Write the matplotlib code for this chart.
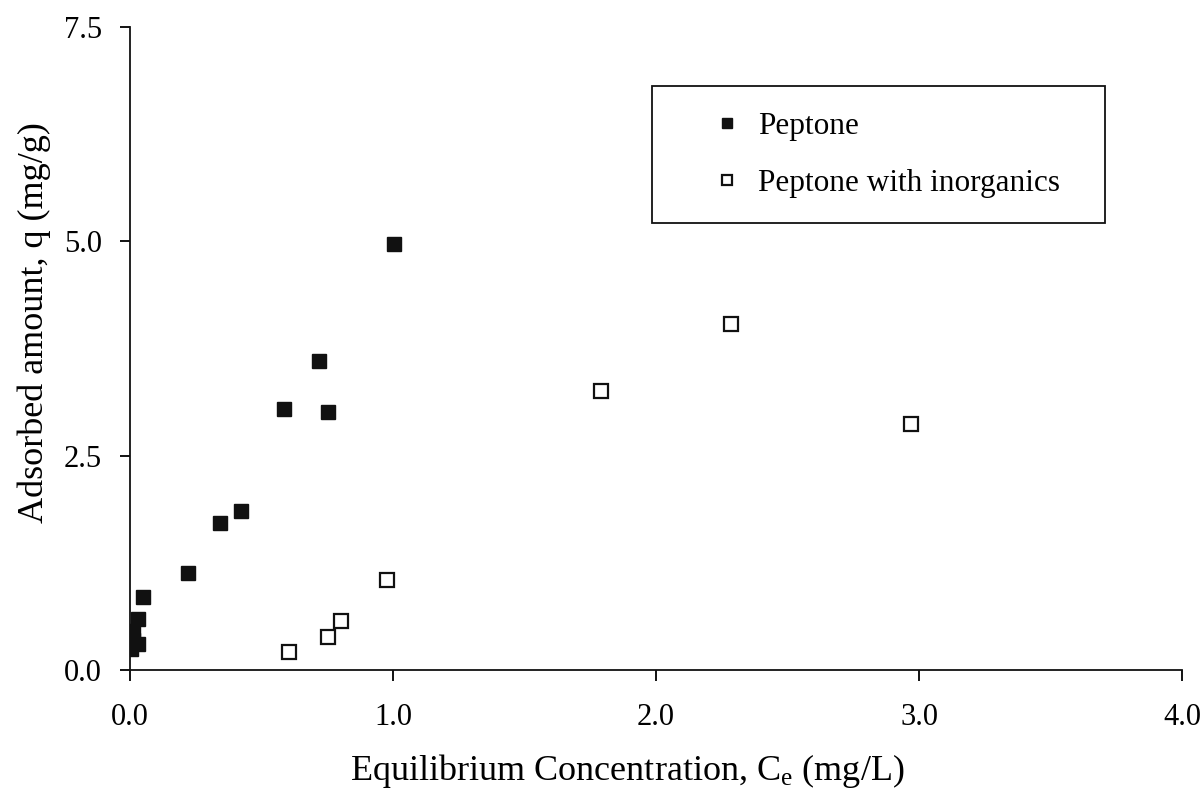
import matplotlib
matplotlib.use("Agg")
import matplotlib.pyplot as plt
from matplotlib.patches import Rectangle

plt.rcParams['font.family'] = ['Liberation Serif', 'DejaVu Serif']
plt.rcParams['mathtext.fontset'] = 'custom'
plt.rcParams['mathtext.rm'] = 'Liberation Serif'

# Peptone alone
pep_ce = [0.005, 0.01, 0.01, 0.03, 0.03, 0.05, 0.22, 0.342, 0.422, 0.586, 0.719, 0.753, 1.004]
pep_q = [0.25, 0.35, 0.45, 0.30, 0.60, 0.85, 1.13, 1.71, 1.86, 3.05, 3.61, 3.01, 4.97]

# Peptone with inorganics
inorg_ce = [0.604, 0.753, 0.802, 0.977, 1.79, 2.285, 2.97]
inorg_q = [0.21, 0.385, 0.57, 1.05, 3.26, 4.04, 2.87]

x_ticks = [0.0, 1.0, 2.0, 3.0, 4.0]
y_ticks = [0.0, 2.5, 5.0, 7.5]

fig = plt.figure(figsize=(12.02, 8.02), dpi=100)
ax = fig.add_axes([130/1202, (802-670)/802, 1052/1202, 643/802])

ax.plot(pep_ce, pep_q, 's', color='#111111', markersize=10.5, label='Peptone')
ax.plot(inorg_ce, inorg_q, 's', markerfacecolor='white', markeredgecolor='#111111',
        markeredgewidth=1.6, markersize=10, label='Peptone with inorganics')

ax.set_xlim(0, 4.0)
ax.set_ylim(0, 7.5)
ax.set_xticks(x_ticks)
ax.set_xticklabels(['%.1f' % v for v in x_ticks])
ax.set_yticks(y_ticks)
ax.set_yticklabels(['%.1f' % v for v in y_ticks])
ax.spines['top'].set_visible(False)
ax.spines['right'].set_visible(False)
for s in ['left', 'bottom']:
    ax.spines[s].set_linewidth(1.3)
    ax.spines[s].set_color('#111111')
ax.tick_params(axis='x', direction='out', length=8, width=1.3, pad=16, labelsize=22)
ax.tick_params(axis='y', direction='out', length=7, width=1.3, pad=13, labelsize=22)

ax.set_xlabel(r'Equilibrium Concentration, $\mathregular{C_e}$ (mg/L)', fontsize=26)
ax.set_ylabel('Adsorbed amount, q (mg/g)', fontsize=26)
# labels sit a bit off-centre in the original
ax.xaxis.set_label_coords(0.473, -0.127)
ax.yaxis.set_label_coords(-0.075, 0.541)

# legend box
ax.add_patch(Rectangle((0.496, 0.695), 0.431, 0.213, transform=ax.transAxes,
                       fill=False, edgecolor='#111111', linewidth=1.3, zorder=5))
leg = ax.legend(loc='center left', bbox_to_anchor=(0.538, 0.801), frameon=False,
                fontsize=22.5, borderpad=0, handlelength=1.0, handletextpad=0.5,
                labelspacing=0.9, markerscale=0.7)

fig.savefig('out.png', dpi=100)
